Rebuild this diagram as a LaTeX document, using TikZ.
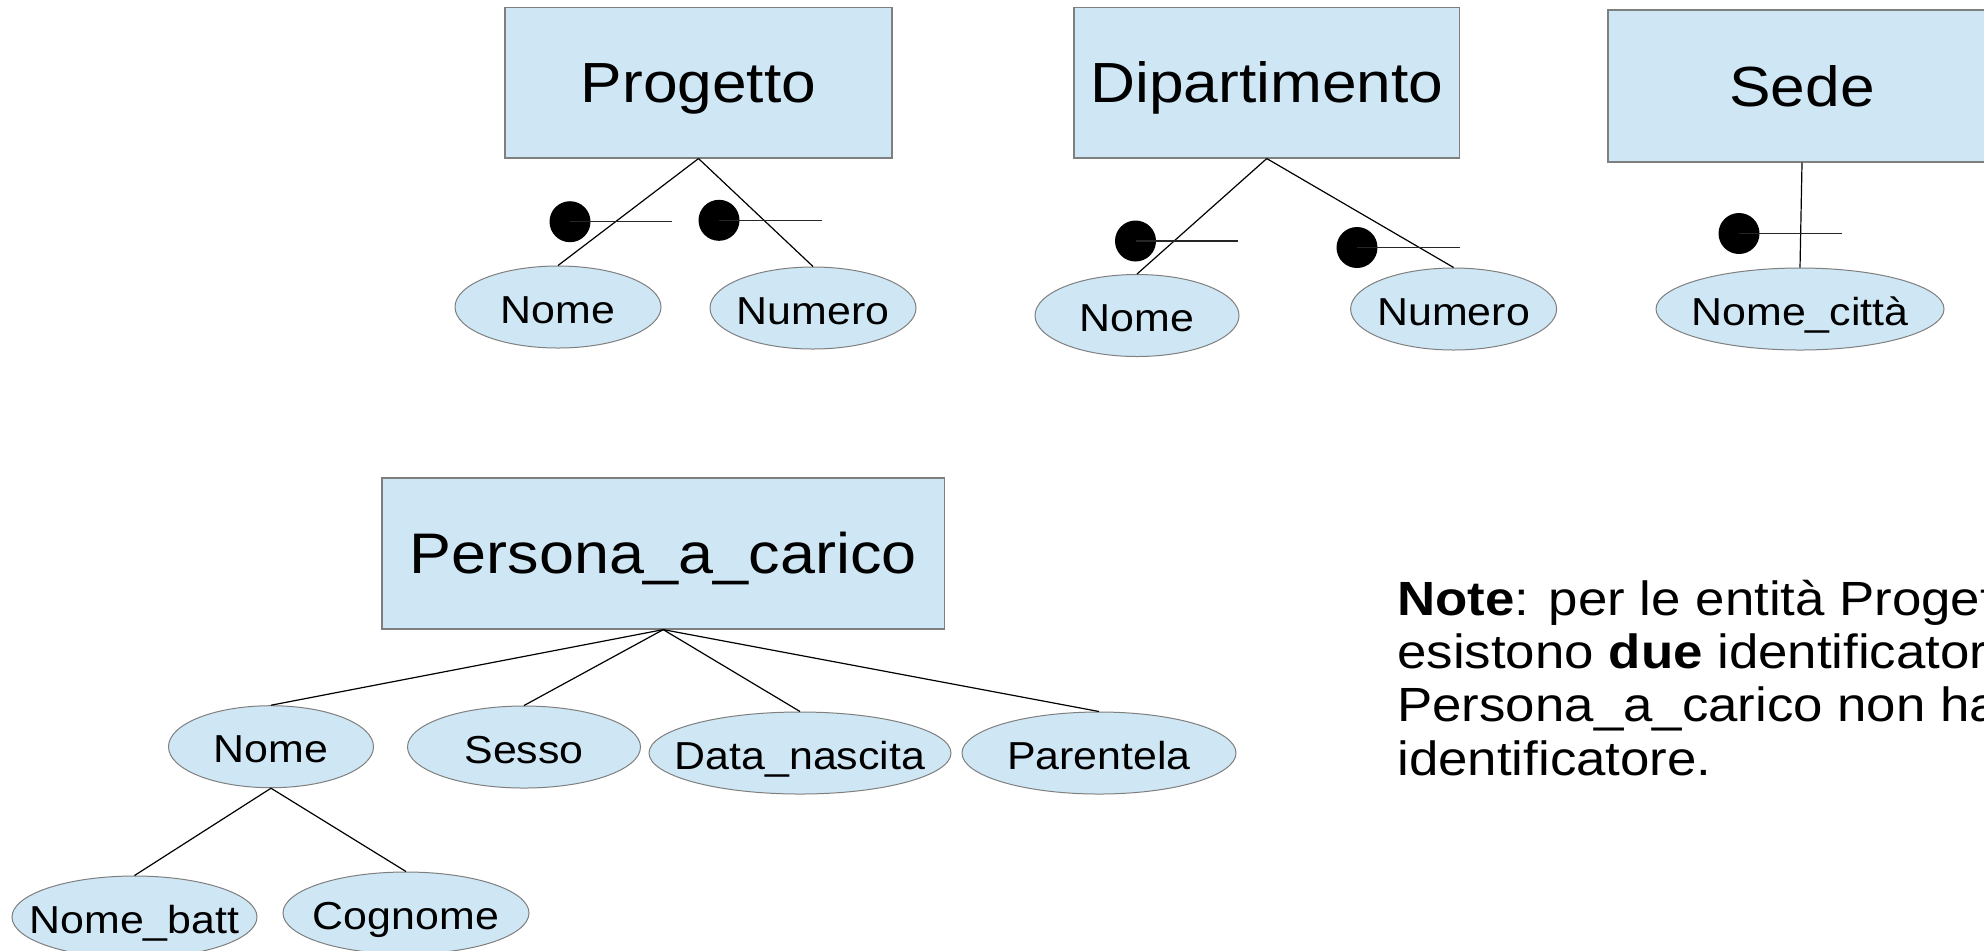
\documentclass[tikz,border=0pt]{standalone}
\usepackage{fontspec}
\setmainfont[FakeStretch=1.1]{Liberation Sans}
\usetikzlibrary{shapes.geometric}
\definecolor{entfill}{HTML}{CFE7F5}
\definecolor{edgegray}{HTML}{7F7F7F}

\begin{document}
\begin{tikzpicture}[x=0.5pt,y=-0.5pt,
  entity/.style={rectangle, draw=edgegray, line width=0.6pt, fill=entfill,
    inner sep=0pt, text height=20pt, text depth=0pt,
    font=\fontsize{28.3}{30}\selectfont},
  attr/.style={ellipse, draw=edgegray, line width=0.5pt, fill=entfill,
    inner sep=0pt},
  attrtext/.style={inner sep=0pt, text height=14pt, text depth=0pt,
    yshift=-1pt, font=\fontsize{19.5}{21}\selectfont},
  link/.style={line width=0.6pt, draw=black},
  idmark/.style={line width=0.75pt, draw=black!85},
  iddot/.style={circle, fill=black, inner sep=0pt, minimum size=20.5pt}]

\useasboundingbox (0,0) rectangle (1984,950);
\clip (0,0) rectangle (1984,950);
\fill[white] (0,0) rectangle (1984,950);

% ---- entities
\node[entity, minimum width=193.5pt, minimum height=75.25pt] (progetto) at (698.5,82.7) {Progetto};
\node[entity, minimum width=192.75pt, minimum height=75.25pt] (dipart) at (1266.75,82.7) {Dipartimento};
\node[entity, minimum width=194pt, minimum height=76pt] (sede) at (1802,86) {Sede};
\node[entity, minimum width=281.25pt, minimum height=75.5pt, font=\fontsize{28.6}{30}\selectfont] (persona) at (663.25,553.5) {Persona\_a\_carico};

% ---- attributes
\node[attr, minimum width=103pt, minimum height=41pt, label={[attrtext]center:Nome}] (pnome) at (558,307) {};
\node[attr, minimum width=103pt, minimum height=41pt, label={[attrtext]center:Numero}] (pnum) at (813,308) {};
\node[attr, minimum width=102pt, minimum height=41pt, label={[attrtext]center:Nome}] (dnome) at (1137,315.5) {};
\node[attr, minimum width=103pt, minimum height=41pt, label={[attrtext]center:Numero}] (dnum) at (1453.6,309) {};
\node[attr, minimum width=144pt, minimum height=41pt, label={[attrtext]center:Nome\_città}] (scitta) at (1800,309) {};

\node[attr, minimum width=102.5pt, minimum height=41pt, label={[attrtext]center:Nome}] (anome) at (271,746.7) {};
\node[attr, minimum width=116.5pt, minimum height=41pt, label={[attrtext]center:Sesso}] (asesso) at (524,747) {};
\node[attr, minimum width=151pt, minimum height=41pt, label={[attrtext]center:Data\_nascita}] (adata) at (800,753) {};
\node[attr, minimum width=137pt, minimum height=41pt, label={[attrtext]center:Parentela}] (aparent) at (1099,753) {};
\node[attr, minimum width=122.5pt, minimum height=41pt, label={[attrtext]center:Nome\_batt}] (abatt) at (134.5,917) {};
\node[attr, minimum width=123pt, minimum height=41pt, label={[attrtext]center:Cognome}] (acogn) at (406,913) {};

% ---- links entity -> attribute
\draw[link] (progetto.south) -- (pnome.north);
\draw[link] (progetto.south) -- (pnum.north);
\draw[link] (dipart.south) -- (dnome.north);
\draw[link] (dipart.south) -- (dnum.north);
\draw[link] (sede.south) -- (scitta.north);
\draw[link] (persona.south) -- (anome.north);
\draw[link] (persona.south) -- (asesso.north);
\draw[link] (persona.south) -- (adata.north);
\draw[link] (persona.south) -- (aparent.north);
\draw[link] (anome.south) -- (abatt.north);
\draw[link] (anome.south) -- (acogn.north);

% ---- identifier marks
\node[iddot] (idp1) at (570,221.7) {};
\coordinate (idp1e) at (672,221.7);
\node[iddot] (idp2) at (719,220.3) {};
\coordinate (idp2e) at (821.7,220.3);
\node[iddot] (idd1) at (1135.5,241) {};
\coordinate (idd1e) at (1238,241);
\node[iddot] (idd2) at (1357,247.5) {};
\coordinate (idd2e) at (1459.5,247.5);
\node[iddot] (ids1) at (1739,233.5) {};
\coordinate (ids1e) at (1842,233.5);
\foreach \d in {idp1,idp2,idd1,idd2,ids1}
  \draw[idmark] (\d.center) -- (\d e);

% ---- note (base anchor sits on the last line)
\node[anchor=base west, inner sep=0pt, align=left,
      font=\fontsize{24}{26.65}\selectfont] (note) at (1397,775)
  {\textbf{Note}: per le entità Progetto\\
   esistono \textbf{due} identificatori\\
   Persona\_a\_carico non ha\\
   identificatore.};
\end{tikzpicture}
\end{document}
